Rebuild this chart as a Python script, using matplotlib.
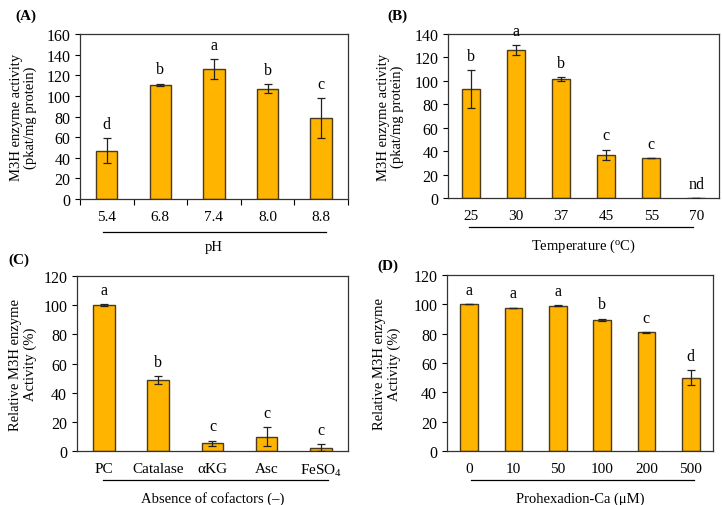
import matplotlib
matplotlib.use("Agg")
import matplotlib.pyplot as plt
import numpy as np

plt.rcParams['font.family'] = ['Liberation Serif', 'DejaVu Serif']
plt.rcParams['mathtext.fontset'] = 'custom'
plt.rcParams['mathtext.rm'] = 'Liberation Serif'
plt.rcParams['mathtext.it'] = 'Liberation Serif:italic'

# Panel A: pH
ph_labels = ["5.4", "6.8", "7.4", "8.0", "8.8"]
ph_values = [47, 111, 126, 107, 78.5]
ph_errors = [12, 1, 9.5, 4.5, 19.5]
ph_letters = ["d", "b", "a", "b", "c"]

# Panel B: temperature
temp_labels = ["25", "30", "37", "45", "55", "70"]
temp_values = [93, 126.5, 101.5, 37, 34, 0]
temp_errors = [16, 4, 2, 4.3, 0, 0]
temp_letters = ["b", "a", "b", "c", "c", "nd"]

# Panel C: cofactors
cof_labels = ["PC", "Catalase", "\u03b1KG", "Asc", "$\\mathrm{FeSO_4}$"]
cof_values = [100, 48.5, 5.3, 9.7, 2.3]
cof_errors = [0.5, 2.8, 1.9, 6.5, 2.2]
cof_letters = ["a", "b", "c", "c", "c"]

# Panel D: Prohexadion-Ca
phx_labels = ["0", "10", "50", "100", "200", "500"]
phx_values = [100, 97.7, 99, 89.5, 81, 50]
phx_errors = [0, 0, 0.3, 0.7, 0.3, 5.3]
phx_letters = ["a", "a", "a", "b", "c", "d"]

BAR = "#FFB400"
EDGE = "#4a3b1c"

fig = plt.figure(figsize=(7.22, 5.06), dpi=100)

def panel(rect, labels, values, errors, letters, ymax, step, ylabel, xlabel,
          tag, tagpos, line_spec, xticks_marks=False, ylab_x=-0.19):
    ax = fig.add_axes(rect)
    x = np.arange(len(labels))
    ax.bar(x, values, width=0.4, color=BAR, edgecolor=EDGE, linewidth=1.0, zorder=2)
    ax.errorbar(x, values, yerr=errors, fmt='none', ecolor='#222222',
                elinewidth=0.9, capsize=3, capthick=0.9, zorder=3)
    for xi, v, e, l in zip(x, values, errors, letters):
        ax.annotate(l, (xi, v + e), xytext=(0, 4.5), textcoords='offset points',
                    ha='center', va='bottom', fontsize=11.5)
    ax.set_xlim(-0.5, len(labels) - 0.5)
    ax.set_ylim(0, ymax)
    ax.set_yticks(np.arange(0, ymax + 1, step))
    ax.set_xticks(x)
    ax.set_xticklabels(labels)
    ax.tick_params(axis='y', direction='out', length=3.5, width=0.8, labelsize=11.5, pad=3.5)
    ax.tick_params(axis='x', length=0, labelsize=11, pad=8)
    if xticks_marks:
        ax.set_xticks(np.arange(-0.5, len(labels), 1.0), minor=True)
        ax.tick_params(axis='x', which='minor', direction='out', length=4, width=0.8)
    for s in ax.spines.values():
        s.set_linewidth(0.9)
        s.set_color('#333333')
    ax.set_ylabel(ylabel, fontsize=10.5, linespacing=1.1)
    ax.yaxis.set_label_coords(ylab_x, 0.5)
    x0, x1, yl, yt = line_spec
    ax.plot([x0, x1], [yl, yl], transform=ax.transAxes,
            color='black', linewidth=0.9, clip_on=False)
    ax.text(0.5, yt, xlabel, transform=ax.transAxes, ha='center',
            va='center', fontsize=10.5)
    fig.text(tagpos[0], tagpos[1], tag, fontsize=11, fontweight='bold',
             ha='left', va='center')
    return ax

panel([0.1108, 0.6047, 0.371, 0.326], ph_labels, ph_values, ph_errors, ph_letters,
      160, 20, "M3H enzyme activity\n(pkat/mg protein)", "pH", "(A)",
      (0.021, 0.968), [0.086, 0.92, -0.2, -0.29], xticks_marks=True, ylab_x=-0.16)

panel([0.6205, 0.6067, 0.3753, 0.324], temp_labels, temp_values, temp_errors, temp_letters,
      140, 20, "M3H enzyme activity\n(pkat/mg protein)", "Temperature ($^{\\mathrm{o}}$C)", "(B)",
      (0.537, 0.968), [0.077, 0.904, -0.177, -0.29], ylab_x=-0.162)

panel([0.1066, 0.1067, 0.3753, 0.3458], cof_labels, cof_values, cof_errors, cof_letters,
      120, 20, "Relative M3H enzyme\nActivity (%)", "Absence of cofactors (\u2013)", "(C)",
      (0.012, 0.486), [0.096, 0.927, -0.166, -0.27], ylab_x=-0.148)

panel([0.619, 0.1067, 0.3684, 0.3478], phx_labels, phx_values, phx_errors, phx_letters,
      120, 20, "Relative M3H enzyme\nActivity (%)", "Prohexadion-Ca (\u03bcM)", "(D)",
      (0.522, 0.474), [0.09, 0.929, -0.165, -0.27], ylab_x=-0.173)

fig.savefig("out.png", dpi=100)
